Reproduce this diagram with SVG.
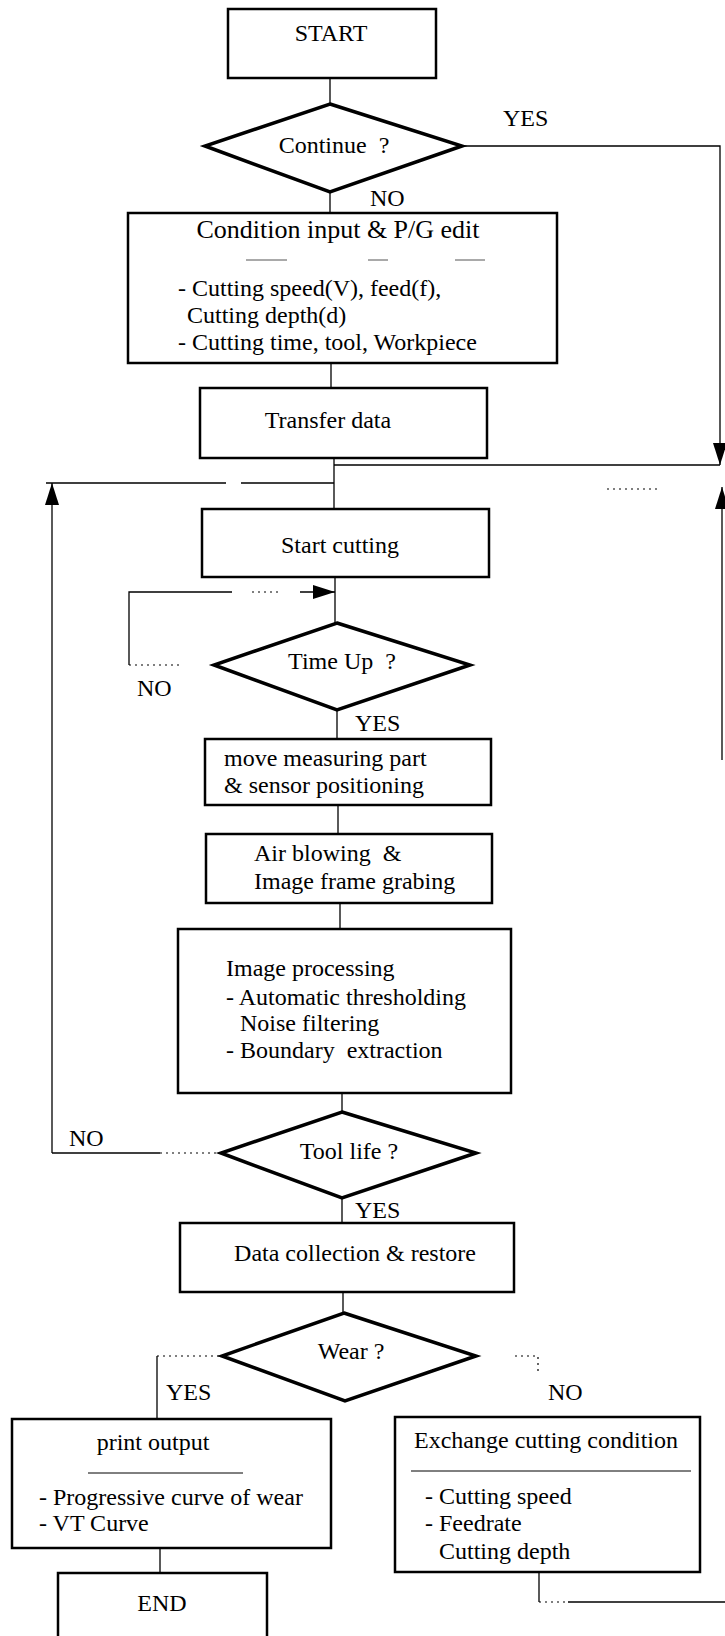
<svg xmlns="http://www.w3.org/2000/svg" width="725" height="1636" viewBox="0 0 725 1636">
<defs>
<style>
text{font-family:"Liberation Serif","Times New Roman",serif;fill:#000;font-size:24px}
.c{text-anchor:middle}
.t{font-size:26px}
.box{fill:#fff;stroke:#000;stroke-width:2.5}
.dia{fill:#fff;stroke:#000;stroke-width:3.5;stroke-linejoin:miter}
.ln{fill:none;stroke:#000;stroke-width:1.3}
.dot{fill:none;stroke:#000;stroke-width:1.2;stroke-dasharray:2 4}
.thin{fill:none;stroke:#000;stroke-width:1}
.frag{fill:none;stroke:#555;stroke-width:1}
</style>
<marker id="ah" markerUnits="userSpaceOnUse" viewBox="0 0 22 14" markerWidth="22" markerHeight="14" refX="22" refY="7" orient="auto">
<path d="M0,0 L22,7 L0,14 z" fill="#000"/>
</marker>
</defs>
<rect width="725" height="1636" fill="#fff"/>

<g id="connectors">
<path class="ln" d="M330,78 V104"/>
<path class="ln" d="M462,146 H720 V465" marker-end="url(#ah)"/>
<path class="ln" d="M720,465 H334"/>
<path class="ln" d="M330,192 V213"/>
<path class="ln" d="M331,363 V388"/>
<path class="ln" d="M334,458 V509"/>
<path class="ln" d="M52,1153 V483" marker-end="url(#ah)"/>
<path class="ln" d="M46,483 H226 M241,483 H334"/>
<path class="ln" d="M722,760 V487" marker-end="url(#ah)"/>
<path class="dot" d="M607,489 H660"/>
<path class="ln" d="M335,577 V623"/>
<path class="ln" d="M129,665 V592 H232"/>
<path class="dot" d="M252,592 H278"/>
<path class="ln" d="M300,592 H335" marker-end="url(#ah)"/>
<path class="dot" d="M129,665 H183"/>
<path class="ln" d="M337,710 V739"/>
<path class="ln" d="M338,805 V834"/>
<path class="ln" d="M340,903 V929"/>
<path class="ln" d="M342,1093 V1112"/>
<path class="ln" d="M52,1153 H160"/>
<path class="dot" d="M160,1153 H221"/>
<path class="ln" d="M342,1198 V1223"/>
<path class="ln" d="M343,1292 V1313"/>
<path class="dot" d="M157,1356 H222"/>
<path class="ln" d="M157,1356 V1419"/>
<path class="dot" d="M515,1356 H538 V1374"/>
<path class="ln" d="M160,1548 V1573"/>
<path class="ln" d="M539,1572 V1602"/>
<path class="dot" d="M539,1602 H568"/>
<path class="ln" d="M568,1602 H725"/>
</g>

<g id="start">
<rect class="box" x="228" y="9" width="208" height="69"/>
<text class="c" x="331" y="41">START</text>
</g>

<g id="continue">
<polygon class="dia" points="330,104 462,146 330,192 205,146"/>
<text class="c" x="334" y="153" xml:space="preserve">Continue  ?</text>
<text x="503" y="126">YES</text>
<text x="370" y="206">NO</text>
</g>

<g id="condition">
<rect class="box" x="128" y="213" width="429" height="150"/>
<text class="c t" x="338" y="238">Condition input &amp; P/G edit</text>
<path class="frag" d="M246,260 H287 M368,260 H388 M455,260 H485"/>
<text x="178" y="296">- Cutting speed(V), feed(f),</text>
<text x="187" y="323">Cutting depth(d)</text>
<text x="178" y="350">- Cutting time, tool, Workpiece</text>
</g>

<g id="transfer">
<rect class="box" x="200" y="388" width="287" height="70"/>
<text class="c" x="328" y="428">Transfer data</text>
</g>

<g id="start-cutting">
<rect class="box" x="202" y="509" width="287" height="68"/>
<text class="c" x="340" y="553">Start cutting</text>
</g>

<g id="time-up">
<polygon class="dia" points="337,623 470,665 337,710 214,665"/>
<text class="c" x="342" y="669" xml:space="preserve">Time Up  ?</text>
<text x="137" y="696">NO</text>
<text x="355" y="731">YES</text>
</g>

<g id="move">
<rect class="box" x="205" y="739" width="286" height="66"/>
<text x="224" y="766">move measuring part</text>
<text x="224" y="793">&amp; sensor positioning</text>
</g>

<g id="air">
<rect class="box" x="206" y="834" width="286" height="69"/>
<text x="254" y="861" xml:space="preserve">Air blowing  &amp;</text>
<text x="254" y="889">Image frame grabing</text>
</g>

<g id="image-processing">
<rect class="box" x="178" y="929" width="333" height="164"/>
<text x="226" y="976">Image processing</text>
<text x="226" y="1005">- Automatic thresholding</text>
<text x="240" y="1031">Noise filtering</text>
<text x="226" y="1058" xml:space="preserve">- Boundary  extraction</text>
</g>

<g id="tool-life">
<polygon class="dia" points="342,1112 476,1153 342,1198 221,1153"/>
<text class="c" x="349" y="1159">Tool life ?</text>
<text x="69" y="1146">NO</text>
<text x="355" y="1218">YES</text>
</g>

<g id="data-collection">
<rect class="box" x="180" y="1223" width="334" height="69"/>
<text class="c" x="355" y="1261">Data collection &amp; restore</text>
</g>

<g id="wear">
<polygon class="dia" points="344,1313 476,1356 345,1401 222,1356"/>
<text class="c" x="351" y="1359">Wear ?</text>
<text x="166" y="1400">YES</text>
<text x="548" y="1400">NO</text>
</g>

<g id="print-output">
<rect class="box" x="12" y="1419" width="319" height="129"/>
<text class="c" x="153" y="1450">print output</text>
<path class="thin" d="M88,1473 H243"/>
<text x="39" y="1505">- Progressive curve of wear</text>
<text x="39" y="1531">- VT Curve</text>
</g>

<g id="end">
<rect class="box" x="58" y="1573" width="209" height="80"/>
<text class="c" x="162" y="1611">END</text>
</g>

<g id="exchange">
<rect class="box" x="395" y="1417" width="305" height="155"/>
<text class="c" x="546" y="1448">Exchange cutting condition</text>
<path class="thin" d="M411,1471 H691"/>
<text x="425" y="1504">- Cutting speed</text>
<text x="425" y="1531">- Feedrate</text>
<text x="439" y="1559">Cutting depth</text>
</g>
</svg>
